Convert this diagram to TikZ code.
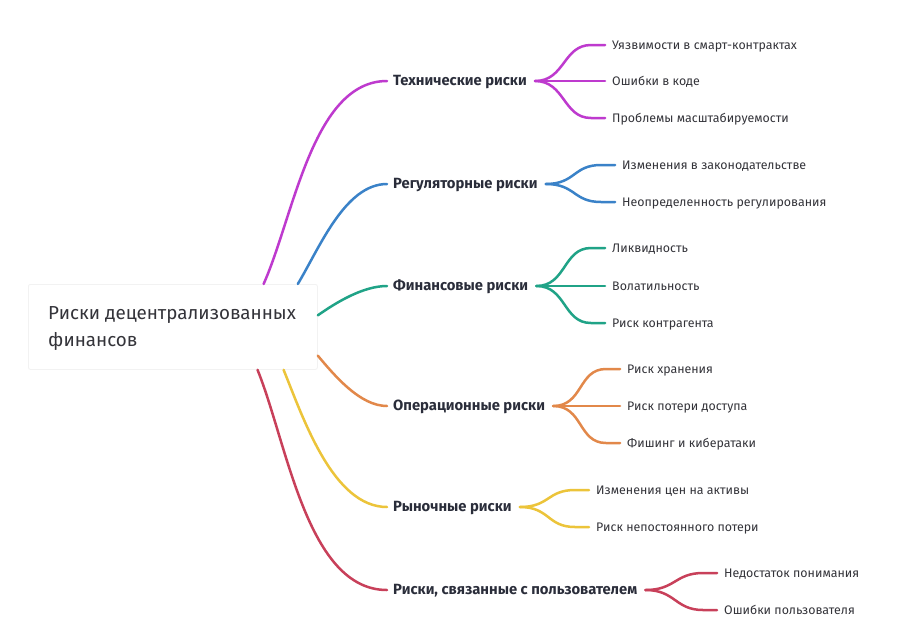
\documentclass[tikz,border=0pt]{standalone}
\usepackage{fontspec}
\setmainfont{Fira Sans}
\usetikzlibrary{calc}
\definecolor{cpur}{RGB}{190,58,206}
\definecolor{cblu}{RGB}{58,130,200}
\definecolor{cgrn}{RGB}{32,163,135}
\definecolor{corg}{RGB}{226,136,74}
\definecolor{cyel}{RGB}{236,196,58}
\definecolor{cred}{RGB}{200,64,90}
\definecolor{txtbold}{RGB}{42,45,58}
\definecolor{txtreg}{RGB}{52,52,58}
\begin{document}
\begin{tikzpicture}[x=1pt,y=-1pt,
  link/.style={line width=2.5pt, line cap=round},
  rootlink/.style={link, looseness=0.8},
  branch/.style={font=\bfseries\fontsize{14.8}{16}\selectfont, text=txtbold, inner sep=0pt, anchor=west, text height=9.5pt, text depth=0pt},
  leaf/.style={font=\fontsize{12.4}{14}\selectfont, text=txtreg, inner sep=0pt, anchor=west, text height=8.5pt, text depth=0pt},
  rootbox/.style={draw=black!5, line width=0.8pt, fill=white, rounded corners=2pt, minimum width=289pt, minimum height=85pt, anchor=north west, inner sep=0pt},
  roottext/.style={font=\fontsize{18.8}{27}\selectfont, text=txtreg, align=left, anchor=west, inner sep=0pt}
]
\useasboundingbox (0,0) rectangle (901,635);
\fill[white] (0,0) rectangle (901,635);

% root
\node[rootbox] (root) at (28,284) {};
\node[roottext] (rtext) at (48,329) {Риски децентрализованных\\финансов};

% branches
\node[branch] (b1) at (393,81) {Технические риски};
\node[branch] (b2) at (393,184) {Регуляторные риски};
\node[branch] (b3) at (393,286) {Финансовые риски};
\node[branch] (b4) at (393,406) {Операционные риски};
\node[branch] (b5) at (393,507) {Рыночные риски};
\node[branch] (b6) at (393,590) {Риски, связанные с пользователем};

% leaves
\node[leaf] (l11) at (612,45) {Уязвимости в смарт-контрактах};
\node[leaf] (l12) at (612,81) {Ошибки в коде};
\node[leaf] (l13) at (612,118) {Проблемы масштабируемости};
\node[leaf] (l21) at (622,165) {Изменения в законодательстве};
\node[leaf] (l22) at (622,202) {Неопределенность регулирования};
\node[leaf] (l31) at (612,248) {Ликвидность};
\node[leaf] (l32) at (612,286) {Волатильность};
\node[leaf] (l33) at (612,323) {Риск контрагента};
\node[leaf] (l41) at (627,369) {Риск хранения};
\node[leaf] (l42) at (627,406) {Риск потери доступа};
\node[leaf] (l43) at (627,443) {Фишинг и кибератаки};
\node[leaf] (l51) at (596,490) {Изменения цен на активы};
\node[leaf] (l52) at (596,527) {Риск непостоянного потери};
\node[leaf] (l61) at (724,573) {Недостаток понимания};
\node[leaf] (l62) at (724,610) {Ошибки пользователя};

% start points on the root box border
\coordinate (s1) at ($(root.north west)!0.813!(root.north east)$);
\coordinate (s2) at ($(root.north west)!0.931!(root.north east)$);
\coordinate (s3) at ($(root.north east)!0.365!(root.south east)$);
\coordinate (s4) at ($(root.north east)!0.835!(root.south east)$);
\coordinate (s5) at ($(root.south west)!0.882!(root.south east)$);
\coordinate (s6) at ($(root.south west)!0.792!(root.south east)$);

% root links
\draw[rootlink, cpur] (s1) to[out=66,in=180] ([xshift=-6pt]b1.west);
\draw[rootlink, cblu] (s2) to[out=59,in=180] ([xshift=-6pt]b2.west);
\draw[rootlink, cgrn] (s3) to[out=35,in=180] ([xshift=-6pt]b3.west);
\draw[rootlink, corg] (s4) to[out=-50,in=180] ([xshift=-6pt]b4.west);
\draw[rootlink, cyel] (s5) to[out=-68,in=180] ([xshift=-6pt]b5.west);
\draw[rootlink, cred] (s6) to[out=-68,in=180] ([xshift=-6pt]b6.west);

% leaf links
\foreach \b/\l/\c in {b1/l11/cpur, b1/l12/cpur, b1/l13/cpur,
                      b2/l21/cblu, b2/l22/cblu,
                      b3/l31/cgrn, b3/l32/cgrn, b3/l33/cgrn,
                      b4/l41/corg, b4/l42/corg, b4/l43/corg,
                      b5/l51/cyel, b5/l52/cyel,
                      b6/l61/cred, b6/l62/cred}{
  \draw[link, \c] ([xshift=8pt]\b.east) .. controls +(30,0) and +(-28,0) .. ([xshift=-21pt]\l.west) -- ([xshift=-7pt]\l.west);
}
\end{tikzpicture}
\end{document}
